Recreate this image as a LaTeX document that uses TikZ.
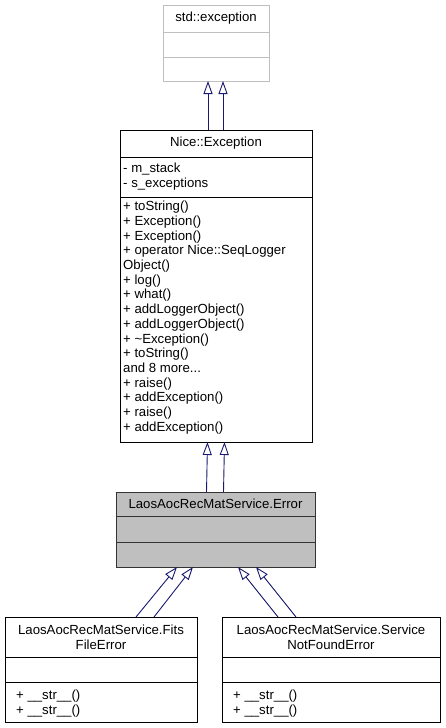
\documentclass[tikz,border=0pt]{standalone}
\usepackage{fontspec}
\setmainfont{Liberation Sans}
\usetikzlibrary{arrows.meta}
\definecolor{edgeblue}{HTML}{191970}
\definecolor{lightframe}{HTML}{BFBFBF}
\definecolor{grayfill}{HTML}{BFBFBF}
\begin{document}
\begin{tikzpicture}[x=1pt,y=-1pt,
  txt/.style={font=\fontsize{13.2}{14.7}\selectfont},
  part/.style={draw=black,line width=0.9pt,rectangle,inner sep=0pt,outer sep=0pt,anchor=north west,txt},
  lpart/.style={part,draw=lightframe},
  gpart/.style={part,draw=black!80,fill=grayfill},
  inh/.style={draw=edgeblue,line width=0.9pt,-{Triangle[open,length=13pt,width=9pt,line width=0.9pt]}}
]
\useasboundingbox (0,0) rectangle (445,728);
\fill[white] (0,0) rectangle (445,728);

% std::exception
\node[lpart,minimum width=106pt,minimum height=27pt] (stdHead) at (163,5) {std::exception};
\node[lpart,minimum width=106pt,minimum height=25pt] (stdAttr) at (163,32) {};
\node[lpart,minimum width=106pt,minimum height=24pt] (stdMeth) at (163,57) {};

% Nice::Exception
\node[part,minimum width=192pt,minimum height=27pt] (niceHead) at (120,130) {Nice::Exception};
\node[part,minimum width=192pt,minimum height=40pt] (niceAttr) at (120,157) {};
\node[part,minimum width=192pt,minimum height=245pt] (niceMeth) at (120,197) {};
\node[txt,anchor=north west,align=left,inner sep=0pt] (niceAttrTxt) at (123,163) {- m\_stack\\- s\_exceptions};
\node[txt,anchor=north west,align=left,inner sep=0pt] (niceMethTxt) at (123,201) {+ toString()\\+ Exception()\\+ Exception()\\+ operator Nice::SeqLogger\\Object()\\+ log()\\+ what()\\+ addLoggerObject()\\+ addLoggerObject()\\+ \textasciitilde Exception()\\+ toString()\\and 8 more...\\+ raise()\\+ addException()\\+ raise()\\+ addException()};

% LaosAocRecMatService.Error
\node[gpart,minimum width=199pt,minimum height=24pt] (errHead) at (116,492) {LaosAocRecMatService.Error};
\node[gpart,minimum width=199pt,minimum height=26pt] (errAttr) at (116,516) {};
\node[gpart,minimum width=199pt,minimum height=25pt] (errMeth) at (116,542) {};

% FitsFileError
\node[part,minimum width=192pt,minimum height=40pt,align=center] (fitsHead) at (5,617) {LaosAocRecMatService.Fits\\FileError};
\node[part,minimum width=192pt,minimum height=25pt] (fitsAttr) at (5,657) {};
\node[part,minimum width=192pt,minimum height=40pt] (fitsMeth) at (5,682) {};
\node[txt,anchor=north west,align=left,inner sep=0pt] (fitsMethTxt) at (16,690) {+ \_\_str\_\_()\\+ \_\_str\_\_()};

% ServiceNotFoundError
\node[part,minimum width=218pt,minimum height=40pt,align=center] (svcHead) at (222,617) {LaosAocRecMatService.Service\\NotFoundError};
\node[part,minimum width=218pt,minimum height=25pt] (svcAttr) at (222,657) {};
\node[part,minimum width=218pt,minimum height=40pt] (svcMeth) at (222,682) {};
\node[txt,anchor=north west,align=left,inner sep=0pt] (svcMethTxt) at (233,690) {+ \_\_str\_\_()\\+ \_\_str\_\_()};

% inheritance
\draw[inh] ([xshift=-8pt]niceHead.north) -- ([xshift=-8pt]stdMeth.south);
\draw[inh] ([xshift=7pt]niceHead.north) -- ([xshift=7pt]stdMeth.south);
\draw[inh] ([xshift=-9pt]errHead.north) -- ([xshift=-8.5pt]niceMeth.south);
\draw[inh] ([xshift=8pt]errHead.north) -- ([xshift=8.5pt]niceMeth.south);
\draw[inh] ([xshift=35pt]fitsHead.north) -- ([xshift=-38.5pt]errMeth.south);
\draw[inh] ([xshift=53pt]fitsHead.north) -- ([xshift=-22.5pt]errMeth.south);
\draw[inh] ([xshift=-53pt]svcHead.north) -- ([xshift=22.5pt]errMeth.south);
\draw[inh] ([xshift=-35pt]svcHead.north) -- ([xshift=40.5pt]errMeth.south);
\end{tikzpicture}
\end{document}
